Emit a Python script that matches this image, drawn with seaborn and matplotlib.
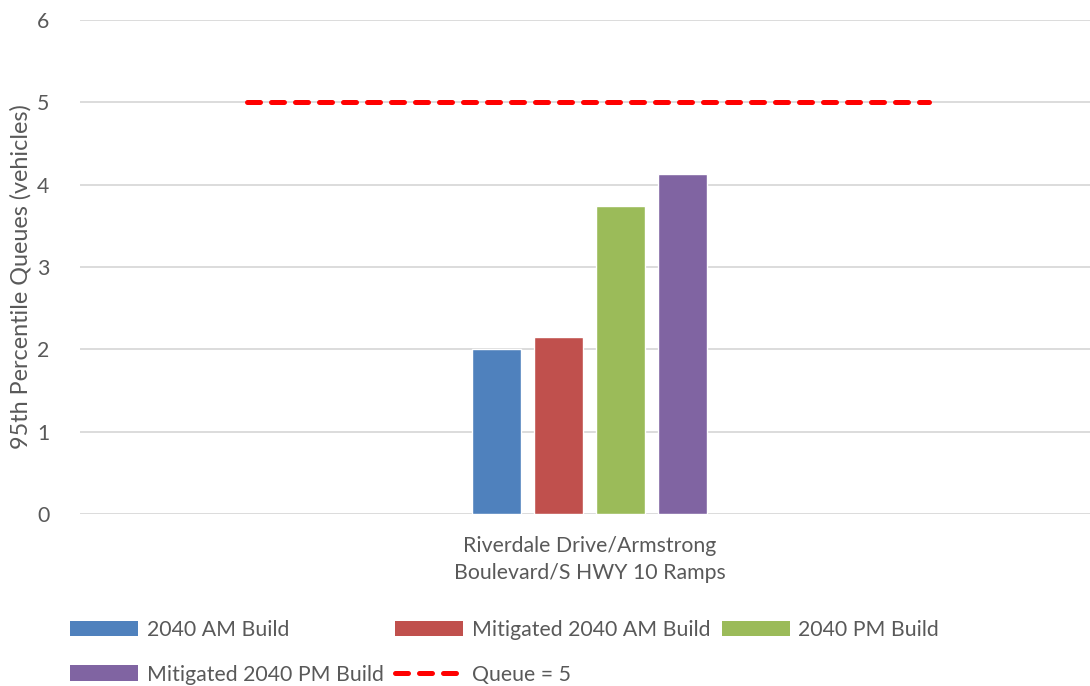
import pandas as pd
import numpy as np
import seaborn as sns
import matplotlib.pyplot as plt
from matplotlib.patches import Patch
from matplotlib.lines import Line2D

# ------------------------------------------------------------------
# Data
# ------------------------------------------------------------------
location = 'Riverdale Drive/Armstrong\nBoulevard/S HWY 10 Ramps'
scenarios = ['2040 AM Build', 'Mitigated 2040 AM Build',
             '2040 PM Build', 'Mitigated 2040 PM Build']
queues = [2.0, 2.15, 3.74, 4.13]
queue_limit = 5
queue_label = 'Queue = 5'

colors = ['#4F81BD', '#C0504D', '#9BBB59', '#8064A2']
text_color = '#595959'
grid_color = '#D9D9D9'

df = pd.DataFrame({'location': [location] * len(scenarios),
                   'scenario': scenarios,
                   'queue': queues})

# ------------------------------------------------------------------
# Plot
# ------------------------------------------------------------------
sns.set_style('white')
plt.rcParams['font.family'] = ['Lato', 'DejaVu Sans']
plt.rcParams['text.color'] = text_color
fs = 15.3

fig = plt.figure(figsize=(10.9, 6.86), dpi=100)
ax = fig.add_axes([80 / 1090, 172 / 686, 1010 / 1090, 494 / 686])

sns.barplot(data=df, x='location', y='queue', hue='scenario',
            hue_order=scenarios, palette=colors, width=0.2456, gap=0.21,
            saturation=1, legend=False, ax=ax)

ax.hlines(queue_limit, -0.339, 0.336, colors='#FF0000', linewidth=3.6,
          linestyles=(0, (2.6, 2.2)), capstyle='round', zorder=3)

ax.set_xlim(-0.5045, 0.4955)
ax.set_ylim(0, 6)
ax.set_yticks(range(0, 7))
ax.yaxis.grid(True, color=grid_color, linewidth=1.3)
ax.set_axisbelow(True)
for s in ax.spines.values():
    s.set_visible(False)
ax.tick_params(axis='both', length=0, labelsize=fs, colors=text_color)
ax.tick_params(axis='y', pad=22)
ax.tick_params(axis='x', pad=16)
for lab in ax.get_xticklabels():
    lab.set_linespacing(1.4)
ax.set_xlabel('')
ax.set_ylabel('95th Percentile Queues (vehicles)', fontsize=16.8,
              color=text_color)
ax.yaxis.set_label_coords(-48 / 1010, 0.48)

# legend: column-first order so rows read like the reference
bars = [Patch(facecolor=c, edgecolor='none') for c in colors]
dash = Line2D([0], [0], color='#FF0000', linewidth=3.6,
              linestyle=(0, (2.6, 2.2)), dash_capstyle='round')
handles = [bars[0], bars[3], bars[1], dash, bars[2]]
labels = [scenarios[0], scenarios[3], scenarios[1], queue_label, scenarios[2]]
fig.legend(handles, labels, ncol=3, loc='upper left',
           bbox_to_anchor=(51 / 1090, 1 - 601 / 686), frameon=False,
           fontsize=fs, handlelength=3.2, handleheight=0.75,
           handletextpad=0.4, columnspacing=0.55, labelspacing=1.15,
           labelcolor=text_color)

plt.savefig('out.png', dpi=100)
